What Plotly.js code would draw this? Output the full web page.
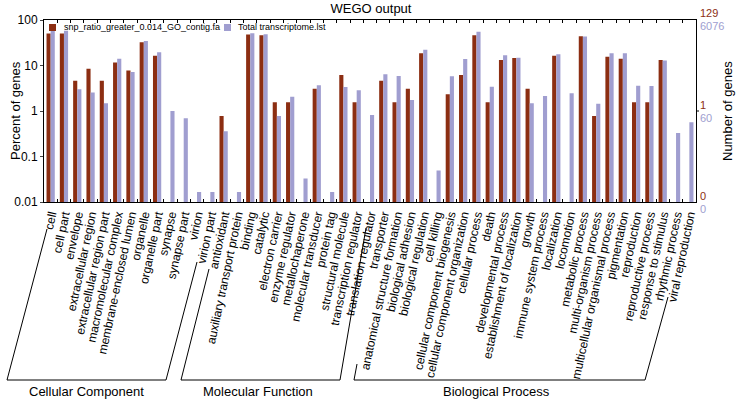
<!DOCTYPE html>
<html>
<head>
<meta charset="utf-8">
<script src="https://cdn.plot.ly/plotly-3.0.1.min.js"></script>
<style>html,body{margin:0;padding:0;background:#fff;}#chart{width:742px;height:401px;}</style>
</head>
<body>
<div id="chart"></div>
<script>
const categories = [
  "cell","cell part","envelope","extracellular region","extracellular region part","macromolecular complex","membrane-enclosed lumen","organelle","organelle part","synapse","synapse part","virion","virion part",
  "antioxidant","auxiliary transport protein","binding","catalytic","electron carrier","enzyme regulator","metallochaperone","molecular transducer","protein tag","structural molecule","transcription regulator","translation regulator","transporter",
  "anatomical structure formation","biological adhesion","biological regulation","cell killing","cellular component biogenesis","cellular component organization","cellular process","death","developmental process","establishment of localization","growth","immune system process","localization","locomotion","metabolic process","multi-organism process","multicellular organismal process","pigmentation","reproduction","reproductive process","response to stimulus","rhythmic process","viral reproduction"
];
const snpPercent = [
  50.4,50.4,4.65,8.53,4.65,11.6,7.75,32.6,16.3,null,null,null,null,
  0.775,null,48.1,46.5,1.55,1.55,null,3.1,null,6.2,1.55,null,4.65,
  1.55,3.1,18.6,null,2.33,6.2,46.5,1.55,13.2,14.7,3.1,null,16.3,null,44.2,0.775,15.5,14.0,1.55,1.55,13.2,null,null
];
const totalPercent = [
  58,58,3.0,2.55,1.48,14.0,7.2,34.5,19.5,1.0,0.69,0.0165,0.0165,
  0.36,0.0165,51,48.5,0.78,2.06,0.033,3.7,0.0165,3.37,2.85,0.82,6.4,
  5.9,1.75,22.2,0.049,5.8,13.9,55.4,3.42,16.8,14.8,1.48,2.14,17.6,2.45,43.3,1.45,18.5,18.5,3.6,3.55,12.9,0.33,0.565
];
const seriesNames = ["snp_ratio_greater_0.014_GO_contig.fa","Total transcriptome.lst"];
const rightLabelsSnp = ["129","1","0"];
const rightLabelsTotal = ["6076","60","0"];
const groupNames = ["Cellular Component","Molecular Function","Biological Process"];

const brown = "rgb(140,46,18)";
const lav = "rgb(160,158,208)";

const traces = [
  {type:"bar", x:categories, y:snpPercent, name:seriesNames[0], marker:{color:brown}, showlegend:false},
  {type:"bar", x:categories, y:totalPercent, name:seriesNames[1], marker:{color:lav}, showlegend:false}
];

// pixel helpers for decorations (plot area: x 44..696, y 20..202)
const L=44, R=696, T=20, B=202;
const px = v => (v-L)/(R-L);
const py = v => (B-v)/(B-T);
const seg = (x0,y0,x1,y1) => ({type:"line", xref:"paper", yref:"paper", x0:px(x0), y0:py(y0), x1:px(x1), y1:py(y1), line:{color:"#000", width:1}});
const box = (x0,y0,x1,y1,c) => ({type:"rect", xref:"paper", yref:"paper", x0:px(x0), y0:py(y0), x1:px(x1), y1:py(y1), fillcolor:c, line:{width:0}});

const shapes = [
  // brackets
  seg(47,229,7,380), seg(7,380,166,380), seg(166,380,197,262),
  seg(209,269,181,380), seg(181,380,340,380), seg(340,380,366,228),
  seg(357,364,354,380), seg(354,380,645,380), seg(645,380,668,297),
  // right axis tick at 1%
  {type:"line", xref:"paper", yref:"y", x0:1, x1:1+3/652, y0:1, y1:1, line:{color:"#000", width:1}},
  // legend swatches
  box(49,24,56,31,brown), box(224,24,231,31,lav)
];

const ann = (text,x,y,opts) => Object.assign({text:text, xref:"paper", yref:"paper", x:px(x), y:py(y), showarrow:false, xanchor:"center", yanchor:"middle"}, opts||{});
const annotations = [
  ann(groupNames[0],86,391,{font:{size:13}}),
  ann(groupNames[1],258,391,{font:{size:13}}),
  ann(groupNames[2],496,391,{font:{size:13}}),
  ann(seriesNames[0],62,27,{xanchor:"left", font:{size:9}}),
  ann(seriesNames[1],236,27,{xanchor:"left", font:{size:9}}),
  ann(rightLabelsSnp[0],698,13,{xanchor:"left", font:{size:11,color:brown}}),
  ann(rightLabelsTotal[0],698,26,{xanchor:"left", font:{size:11,color:lav}}),
  ann(rightLabelsSnp[1],698,105,{xanchor:"left", font:{size:11,color:brown}}),
  ann(rightLabelsTotal[1],698,118,{xanchor:"left", font:{size:11,color:lav}}),
  ann(rightLabelsSnp[2],698,196,{xanchor:"left", font:{size:11,color:brown}}),
  ann(rightLabelsTotal[2],698,209,{xanchor:"left", font:{size:11,color:lav}}),
  ann("Number of genes",727,111,{textangle:-90, font:{size:13}}),
  ann("Percent of genes",15,111,{textangle:-90, font:{size:13}})
];

const layout = {
  width:742, height:401,
  margin:{l:44, r:46, t:20, b:199, pad:0},
  paper_bgcolor:"#fff", plot_bgcolor:"#fff",
  font:{family:"Liberation Sans, Arial, sans-serif", color:"#000", size:12},
  title:{text:"WEGO output", x:0.5, xanchor:"center", y:1-8/401, yanchor:"middle", font:{size:13}},
  barmode:"group", bargap:0.38, bargroupgap:0,
  showlegend:false,
  xaxis:{type:"category", tickmode:"linear", tick0:0, dtick:1, tickangle:-78, tickfont:{size:12}, showline:true, linecolor:"#000", linewidth:1, mirror:"ticks",
         ticks:"inside", ticklen:3, tickson:"boundaries", tickcolor:"#000", showgrid:false, automargin:false},
  yaxis:{type:"log", range:[-2,2], tickvals:[0.01,0.1,1,10,100], ticktext:["0.01","0.1","1","10","100"], tickfont:{size:12},
         showline:true, linecolor:"#000", linewidth:1, mirror:true, ticks:"outside", ticklen:3, showgrid:false, zeroline:false,
         automargin:false},
  shapes:shapes,
  annotations:annotations
};

Plotly.newPlot("chart", traces, layout, {displayModeBar:false, staticPlot:true});
</script>
</body>
</html>
